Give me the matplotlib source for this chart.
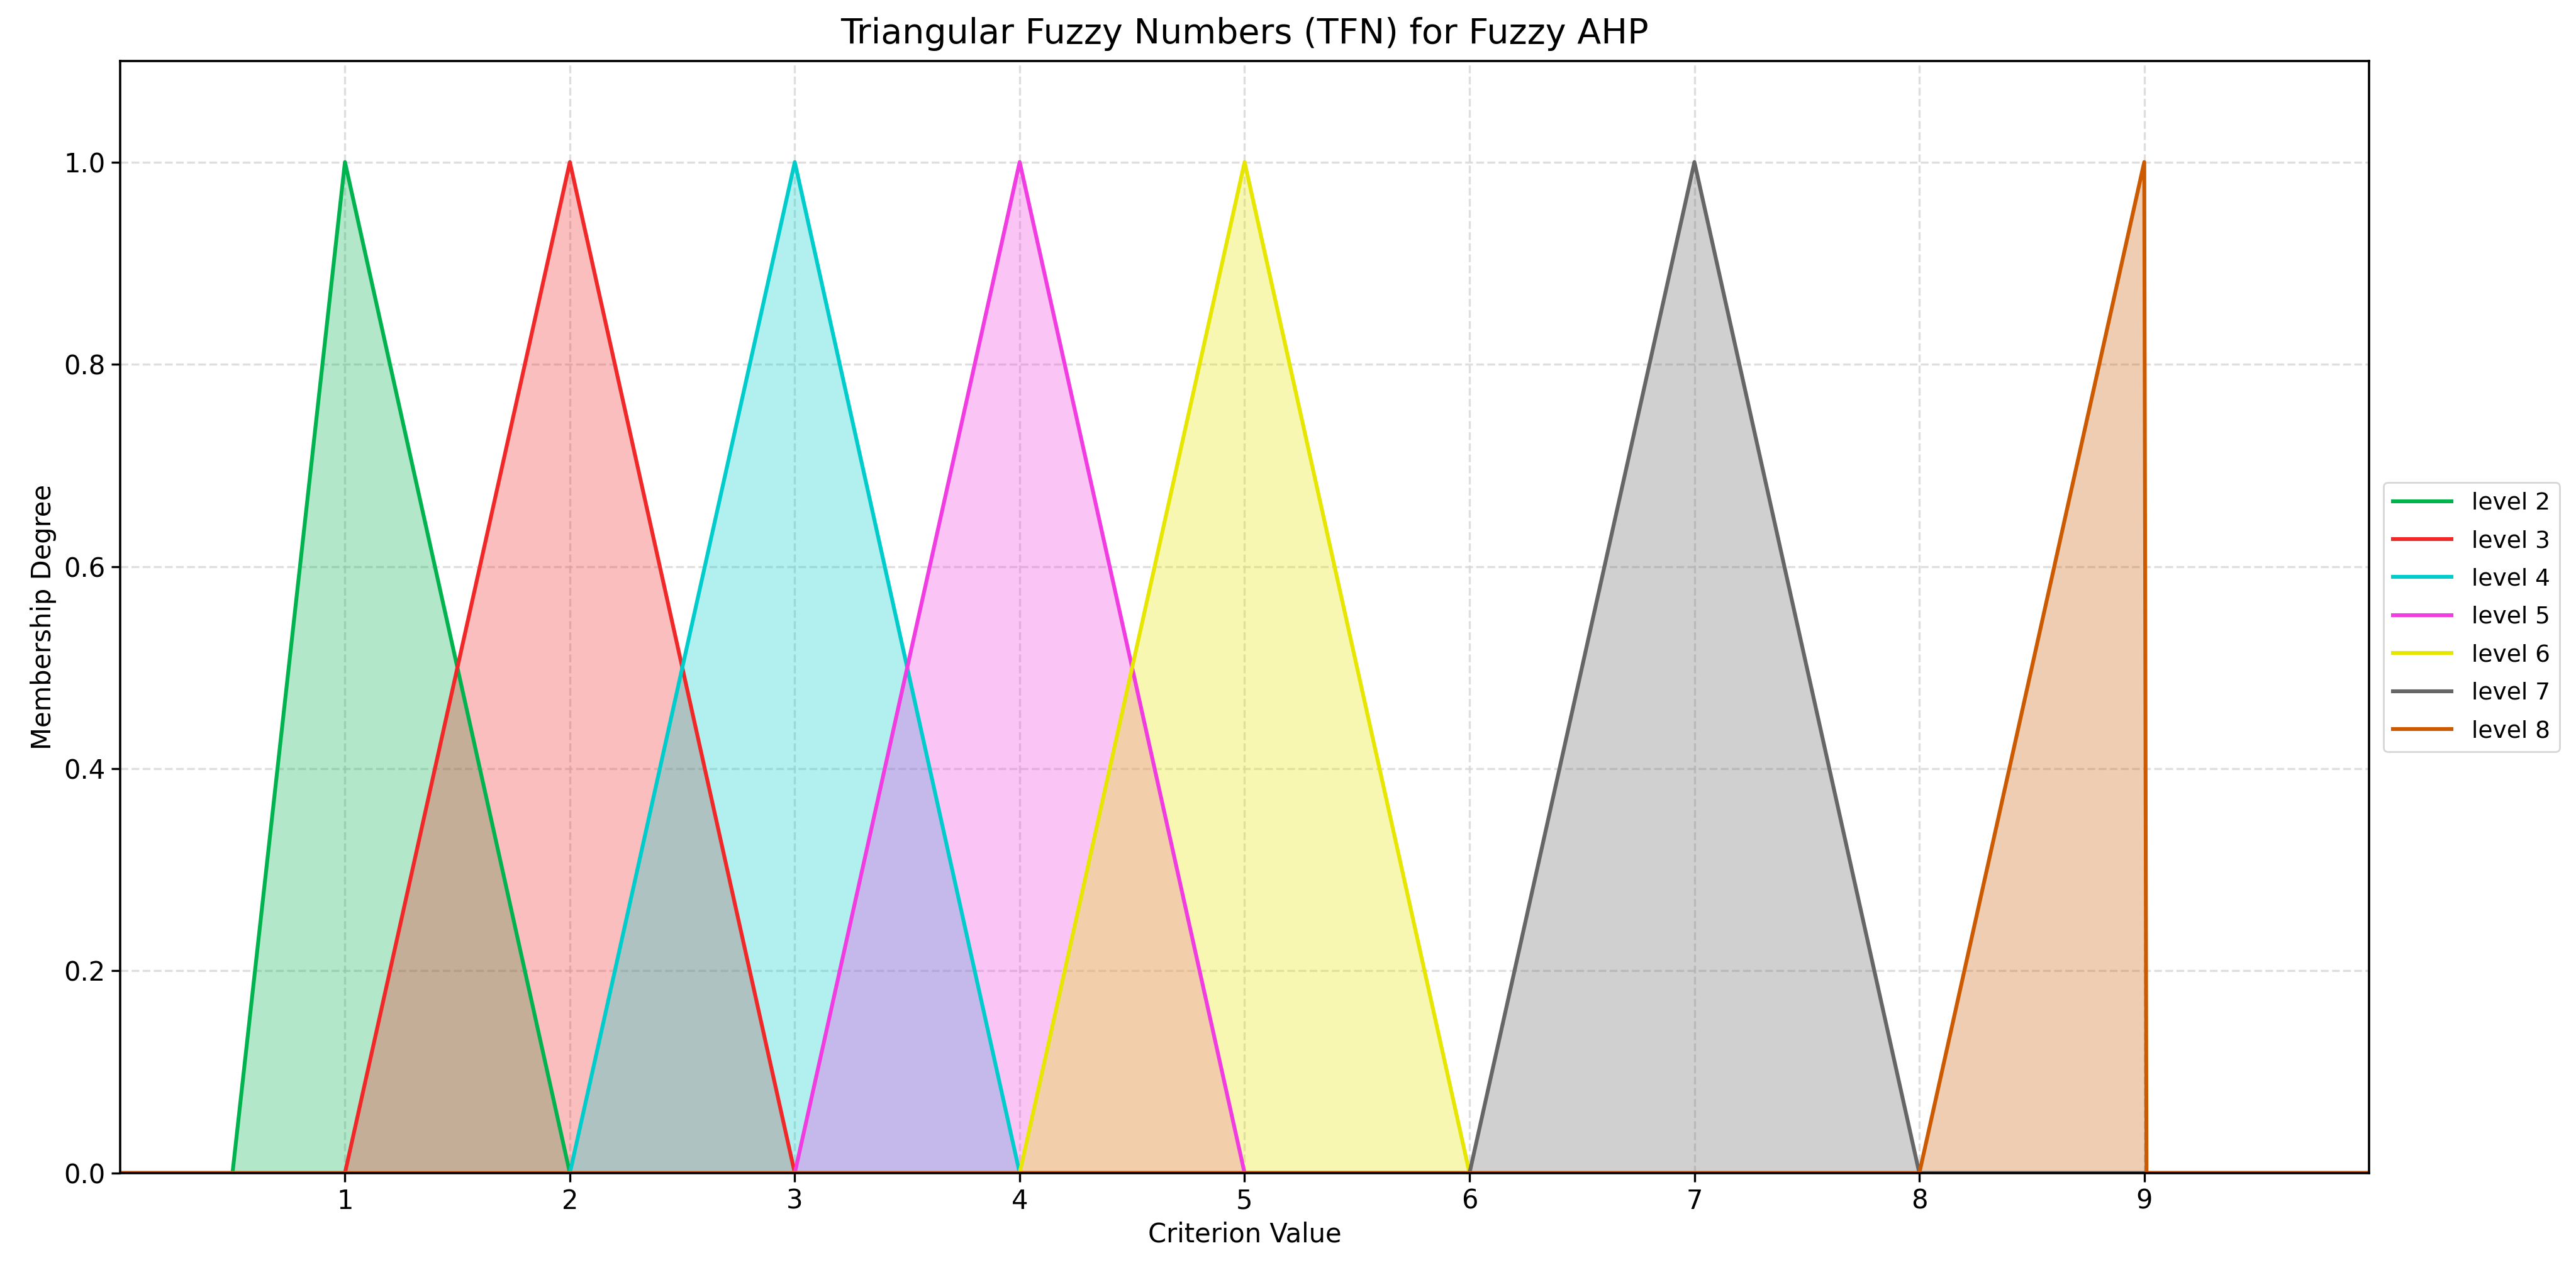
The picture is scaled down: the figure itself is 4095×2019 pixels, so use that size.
import numpy as np
import matplotlib.pyplot as plt

# TFN parameters (l, m, u) per level
levels = ['level 2', 'level 3', 'level 4', 'level 5', 'level 6', 'level 7', 'level 8']
lower = [0.5, 1, 2, 3, 4, 6, 8]
middle = [1, 2, 3, 4, 5, 7, 9]
upper = [2, 3, 4, 5, 6, 8, 9]
colors = ['#00b34f', '#f02828', '#00cccc', '#f03ce0', '#e6e600', '#666666', '#cc5a00']

x_ticks = [1, 2, 3, 4, 5, 6, 7, 8, 9]
y_ticks = [0.0, 0.2, 0.4, 0.6, 0.8, 1.0]


def tfn(x, l, m, u):
    y = np.zeros_like(x)
    if m > l:
        left = (x >= l) & (x <= m)
        y[left] = (x[left] - l) / (m - l)
    if u > m:
        right = (x > m) & (x <= u)
        y[right] = (u - x[right]) / (u - m)
    else:
        y[x == m] = 1.0
    return y


x = np.round(np.linspace(0, 10, 1001), 6)

fig, ax = plt.subplots(figsize=(20.475, 10.095), dpi=200)
fig.subplots_adjust(left=0.0466, right=0.9197, top=0.952, bottom=0.0763)

for name, l, m, u, c in zip(levels, lower, middle, upper, colors):
    y = tfn(x, l, m, u)
    ax.plot(x, y, color=c, linewidth=2.2, label=name)
    ax.fill_between(x, y, color=c, alpha=0.3, linewidth=0)

ax.set_xlim(0, 10)
ax.set_ylim(0, 1.1)
ax.set_xticks(x_ticks)
ax.set_yticks(y_ticks)
ax.tick_params(labelsize=15, length=5, width=1.2)
ax.grid(True, linestyle='--', color='#d6d6d6', linewidth=1.2, alpha=0.8)
ax.set_axisbelow(True)
for s in ax.spines.values():
    s.set_linewidth(1.3)

ax.set_title('Triangular Fuzzy Numbers (TFN) for Fuzzy AHP', fontsize=20, pad=10)
ax.set_xlabel('Criterion Value', fontsize=15)
ax.set_ylabel('Membership Degree', fontsize=15)

ax.legend(loc='center left', bbox_to_anchor=(1.0, 0.5), fontsize=13.5,
          handlelength=2.5, handletextpad=0.85, labelspacing=0.65,
          borderaxespad=0.6)

plt.savefig('out.png', dpi=200)
